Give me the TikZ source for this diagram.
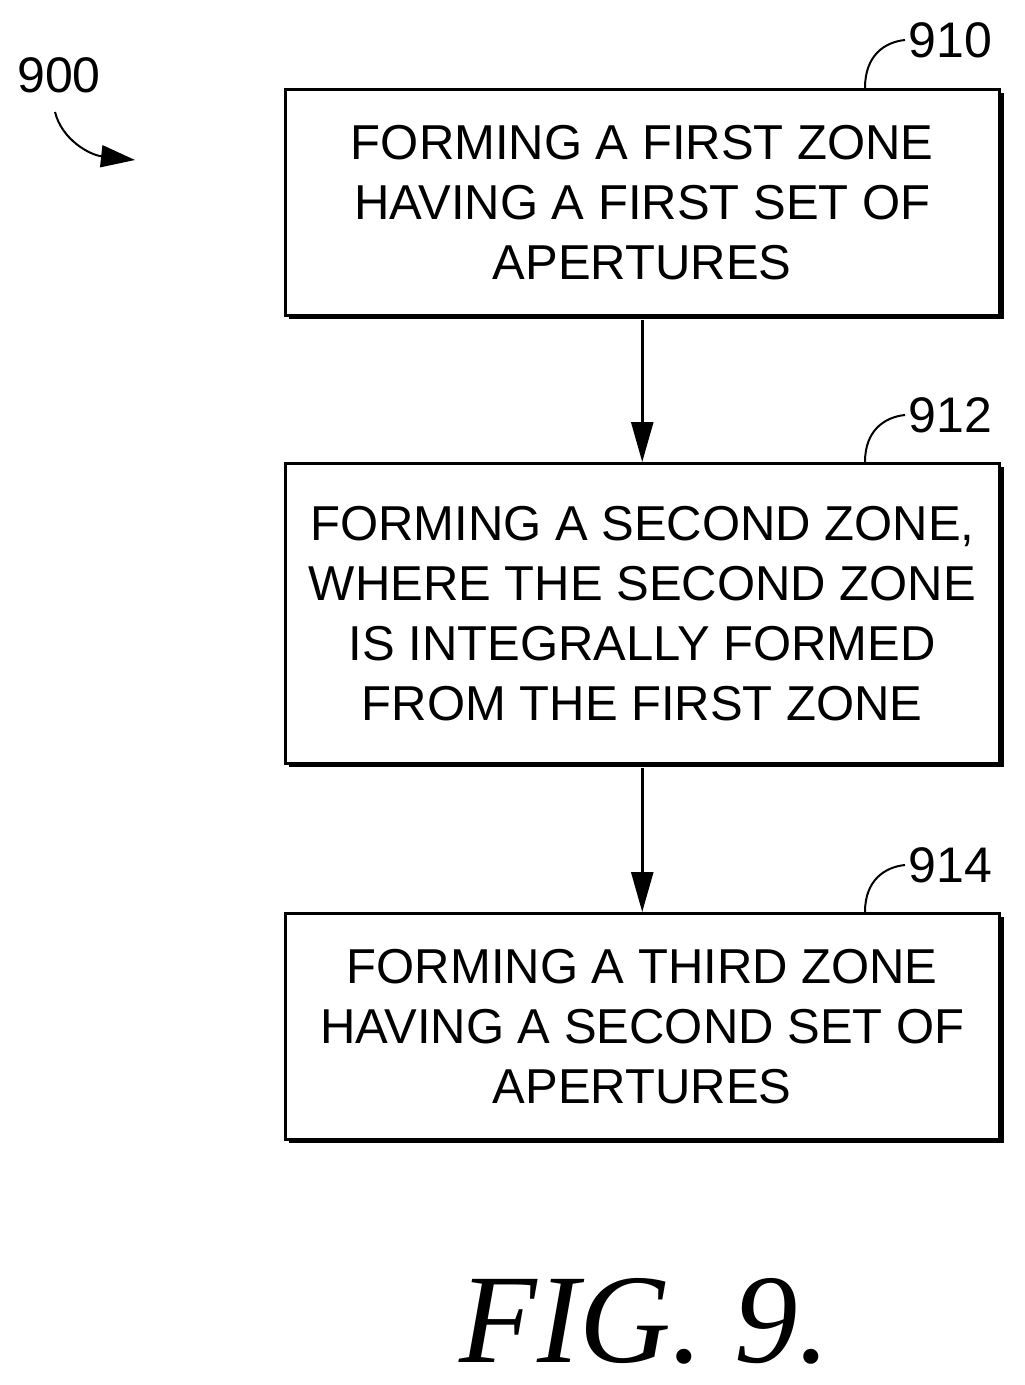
\documentclass[tikz,border=0pt]{standalone}
\usepackage{fontspec}
\setmainfont{Liberation Sans}
\newfontfamily\figfont{Liberation Serif}
\usetikzlibrary{arrows.meta}
\begin{document}
\begin{tikzpicture}[x=1pt,y=-1pt,
  stepbox/.style={draw,line width=2.5pt,minimum width=714pt,align=center,
    font=\fontsize{49}{60}\selectfont,anchor=north west},
  lbl/.style={font=\fontsize{50}{54}\selectfont},
  flow/.style={line width=2.5pt,-{Triangle[length=40pt,width=22pt]}}]
\useasboundingbox (0,0) rectangle (1025,1385);
\foreach \t/\b in {88/314,462/762,912/1138}{
  \draw[line width=3pt] (289,\b+3) -- (1002,\b+3) -- (1002,\t+5);
}
\node[stepbox,minimum height=226pt] (a) at (284,88)
  {FORMING A FIRST ZONE\\HAVING A FIRST SET OF\\APERTURES};
\node[stepbox,minimum height=300pt] (b) at (284,462)
  {FORMING A SECOND ZONE,\\WHERE THE SECOND ZONE\\IS INTEGRALLY FORMED\\FROM THE FIRST ZONE};
\node[stepbox,minimum height=226pt] (c) at (284,912)
  {FORMING A THIRD ZONE\\HAVING A SECOND SET OF\\APERTURES};
\draw[flow] (a.south) ++(0,3) -- (b.north);
\draw[flow] (b.south) ++(0,3) -- (c.north);
\node[lbl,anchor=west] (l1) at (905,40) {910};
\node[lbl,anchor=west] (l2) at (905,415) {912};
\node[lbl,anchor=west] (l3) at (905,865) {914};
\draw[line width=2pt] (865,88) .. controls (865,55) and (885,42) .. (l1.west);
\draw[line width=2pt] (865,462) .. controls (865,430) and (885,417) .. (l2.west);
\draw[line width=2pt] (865,912) .. controls (865,880) and (885,867) .. (l3.west);
\node[lbl] (l0) at (59,75) {900};
\coordinate (e0) at (135,160);
\draw[line width=2pt,-{Triangle[length=34pt,width=22pt]}] (55,112) .. controls (62,140) and (90,155) .. (e0);
\node[font=\figfont\itshape\fontsize{127}{130}\selectfont,anchor=base,inner sep=0pt] (fig) at (645,1362) {FIG. 9.};
\end{tikzpicture}
\end{document}
